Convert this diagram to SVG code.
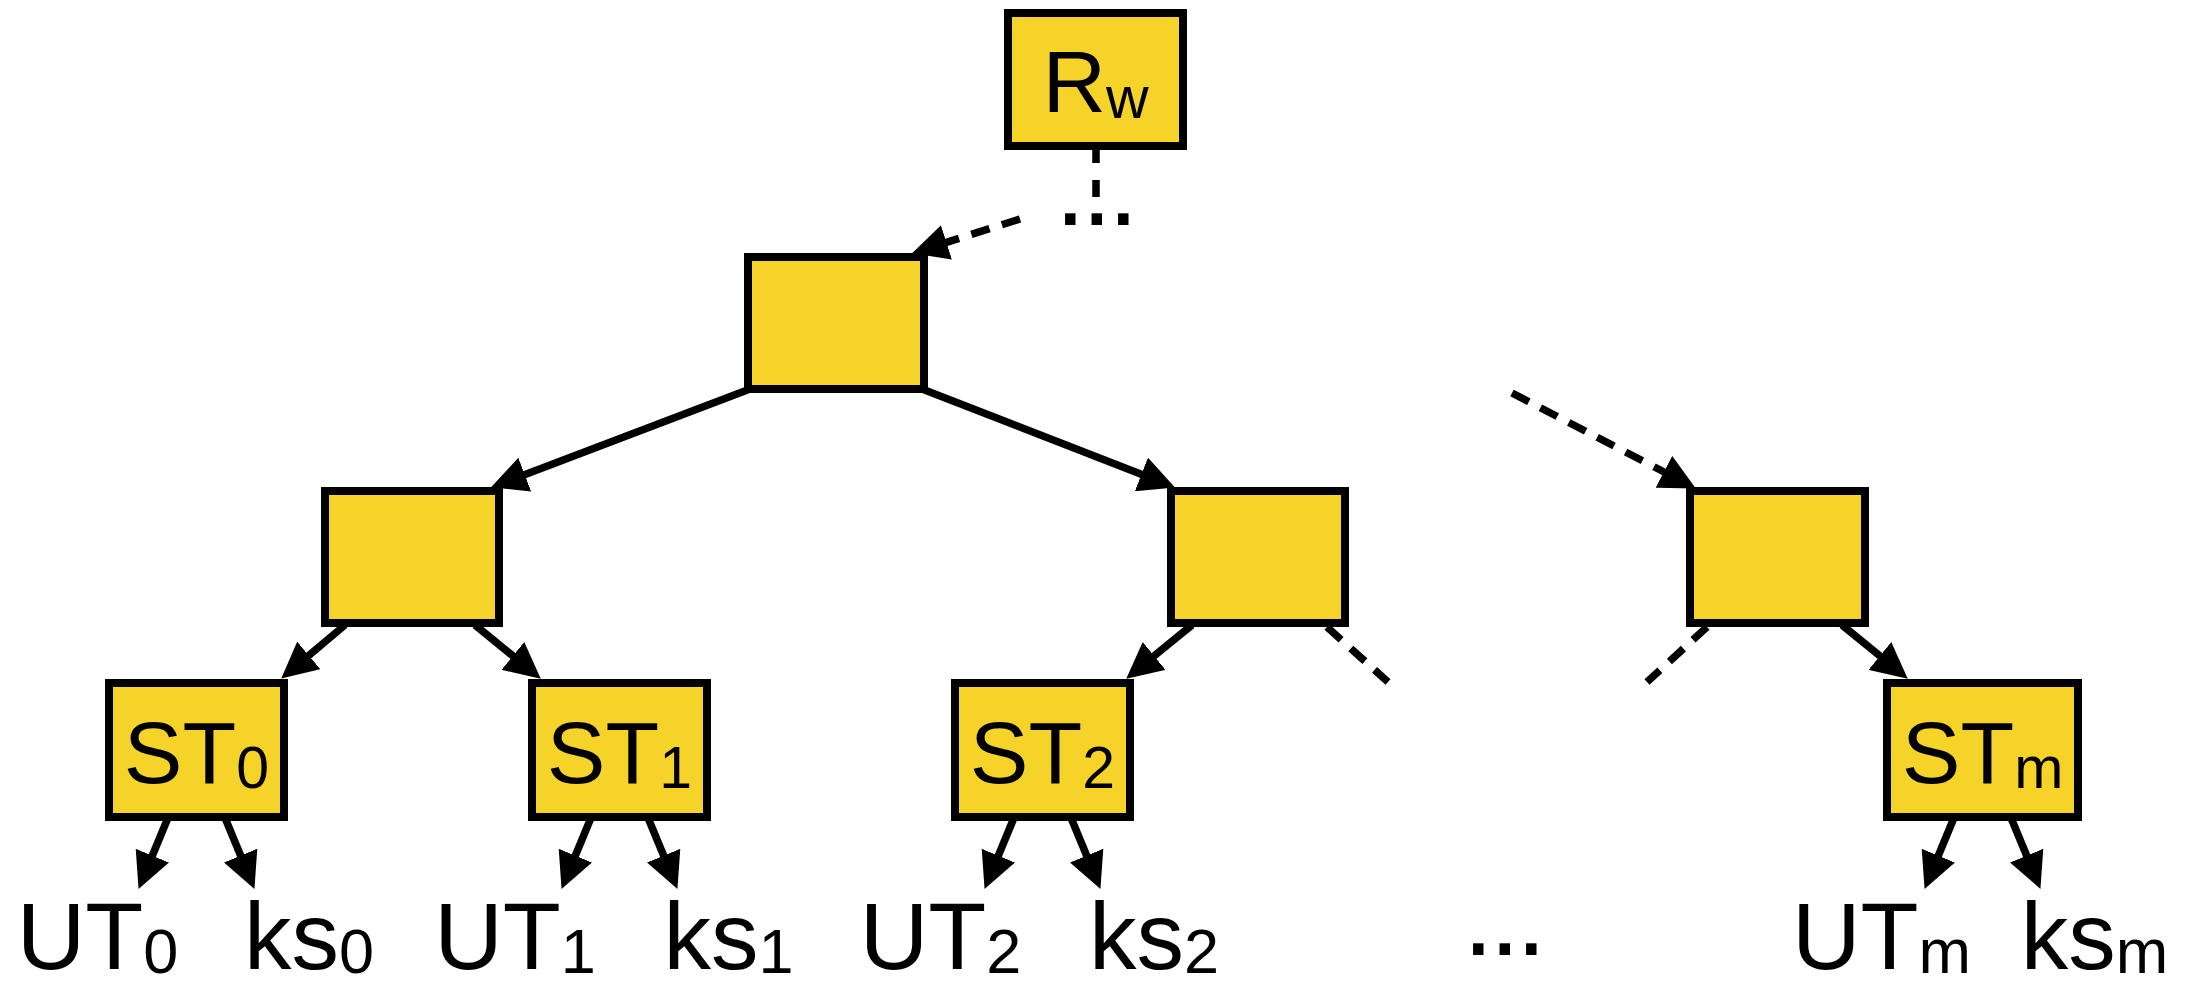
<svg xmlns="http://www.w3.org/2000/svg" width="2187" height="990" viewBox="0 0 2187 990">
  <style>
    .box { fill: #F5D329; stroke: #000; stroke-width: 8; }
    .lbl { font-family: "Liberation Sans", Arial, Helvetica, sans-serif; fill: #000; }
    .in { font-size: 88px; }
    .out { font-size: 95px; }
    .sub-in { font-size: 59px; }
    .sub-out { font-size: 63px; }
    .dots { font-size: 110px; letter-spacing: -4px; }
    .edge { fill: none; stroke: #000; stroke-width: 7.5; }
    .dash { stroke-dasharray: 19 13; }
  </style>
  <defs>
    <marker id="ah" markerUnits="userSpaceOnUse" markerWidth="36" markerHeight="36" viewBox="0 0 36 36" refX="15" refY="18" orient="auto">
      <path d="M0,0 L36,18 L0,36 Z" fill="#000"/>
    </marker>
  </defs>

  <g id="node-rw">
    <rect class="box" x="1008" y="13" width="175" height="133"/>
    <text class="lbl in" x="1095.5" y="112" text-anchor="middle">R<tspan class="sub-in" dy="6">w</tspan></text>
  </g>
  <g id="node-l1">
    <rect class="box" x="748" y="257" width="176" height="132"/>
  </g>
  <g id="node-a">
    <rect class="box" x="325" y="491" width="174" height="132"/>
  </g>
  <g id="node-b">
    <rect class="box" x="1171" y="491" width="174" height="132"/>
  </g>
  <g id="node-c">
    <rect class="box" x="1690" y="491" width="175" height="132"/>
  </g>
  <g id="node-st0">
    <rect class="box" x="109" y="683" width="175" height="134"/>
    <text class="lbl in" x="196.5" y="783" text-anchor="middle">ST<tspan class="sub-in" dy="5">0</tspan></text>
  </g>
  <g id="node-st1">
    <rect class="box" x="532" y="683" width="175" height="134"/>
    <text class="lbl in" x="619.5" y="783" text-anchor="middle">ST<tspan class="sub-in" dy="5">1</tspan></text>
  </g>
  <g id="node-st2">
    <rect class="box" x="955" y="683" width="175" height="134"/>
    <text class="lbl in" x="1042.5" y="783" text-anchor="middle">ST<tspan class="sub-in" dy="5">2</tspan></text>
  </g>
  <g id="node-stm">
    <rect class="box" x="1887" y="683" width="191" height="134"/>
    <text class="lbl in" x="1982.5" y="783" text-anchor="middle">ST<tspan class="sub-in" dy="5">m</tspan></text>
  </g>

  <g id="leaf-labels">
    <text class="lbl out" x="97.5" y="969" text-anchor="middle">UT<tspan class="sub-out" dy="4">0</tspan></text>
    <text class="lbl out" x="309" y="969" text-anchor="middle">ks<tspan class="sub-out" dy="4">0</tspan></text>
    <text class="lbl out" x="515" y="969" text-anchor="middle">UT<tspan class="sub-out" dy="4">1</tspan></text>
    <text class="lbl out" x="728.5" y="969" text-anchor="middle">ks<tspan class="sub-out" dy="4">1</tspan></text>
    <text class="lbl out" x="940.5" y="969" text-anchor="middle">UT<tspan class="sub-out" dy="4">2</tspan></text>
    <text class="lbl out" x="1154" y="969" text-anchor="middle">ks<tspan class="sub-out" dy="4">2</tspan></text>
    <text class="lbl out" x="1881.5" y="969" text-anchor="middle">UT<tspan class="sub-out" dy="4">m</tspan></text>
    <text class="lbl out" x="2094.5" y="969" text-anchor="middle">ks<tspan class="sub-out" dy="4">m</tspan></text>
    <text class="lbl dots" x="1055" y="225">...</text>
    <text class="lbl dots" x="1463" y="955">...</text>
  </g>

  <g id="connectors">
    <path class="edge" d="M1096,146 V197" stroke-dasharray="17 17"/>
    <path class="edge dash" d="M1020,219 L932.1,246.9" marker-end="url(#ah)"/>
    <path class="edge dash" d="M1512,393 L1677.2,478.8" marker-end="url(#ah)"/>
    <path class="edge dash" d="M1327,627 L1388,682"/>
    <path class="edge dash" d="M1707,627 L1647,682"/>

    <path class="edge" d="M750,389 L510.7,479.9" marker-end="url(#ah)"/>
    <path class="edge" d="M922,389 L1155.4,479.8" marker-end="url(#ah)"/>
    <path class="edge" d="M345,625 L297.3,665.1" marker-end="url(#ah)"/>
    <path class="edge" d="M475,625 L524.5,665.4" marker-end="url(#ah)"/>
    <path class="edge" d="M1192,625 L1142.5,665.4" marker-end="url(#ah)"/>
    <path class="edge" d="M1842,625 L1891.5,665.4" marker-end="url(#ah)"/>

    <path class="edge" d="M167.5,819 L146.6,869.5" marker-end="url(#ah)"/>
    <path class="edge" d="M225.5,819 L246.4,869.5" marker-end="url(#ah)"/>
    <path class="edge" d="M590.5,819 L569.6,869.5" marker-end="url(#ah)"/>
    <path class="edge" d="M648.5,819 L669.4,869.5" marker-end="url(#ah)"/>
    <path class="edge" d="M1013.5,819 L992.6,869.5" marker-end="url(#ah)"/>
    <path class="edge" d="M1071.5,819 L1092.4,869.5" marker-end="url(#ah)"/>
    <path class="edge" d="M1953.5,819 L1932.6,869.5" marker-end="url(#ah)"/>
    <path class="edge" d="M2011.5,819 L2032.4,869.5" marker-end="url(#ah)"/>
  </g>
</svg>
